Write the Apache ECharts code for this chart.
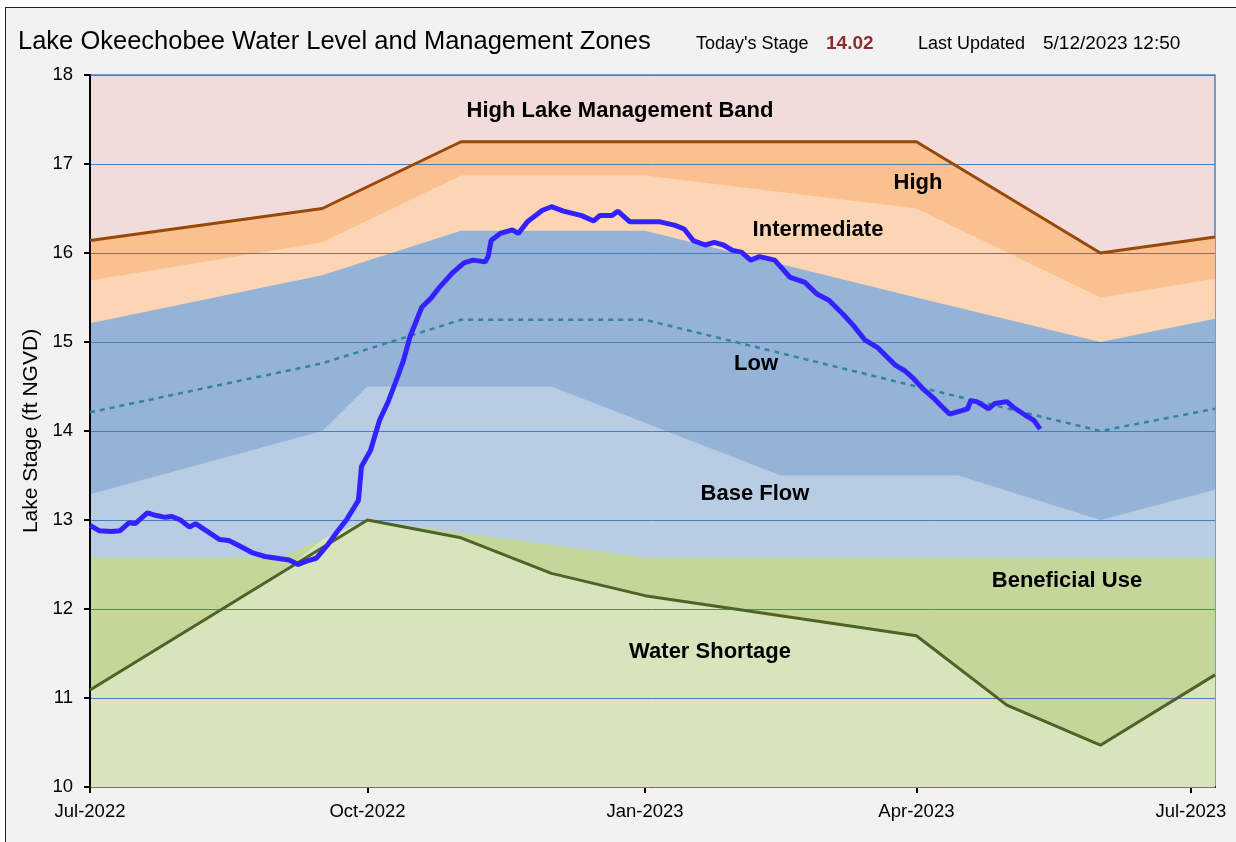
<!DOCTYPE html>
<html>
<head>
<meta charset="utf-8">
<script src="https://cdn.jsdelivr.net/npm/echarts@6/dist/echarts.min.js"></script>
<style>
  html, body { margin: 0; padding: 0; background: #fff; }
  #frame { position: absolute; left: 5px; top: 7px; width: 1240px; height: 840px; background: #f2f2f2; border-left: 1.5px solid #222; border-top: 1.5px solid #222; }
  #main { position: absolute; left: 0; top: 0; width: 1236px; height: 842px; }
</style>
</head>
<body>
<div id="frame"></div>
<div id="main"></div>
<script>
// management zone boundaries (ft NGVD)
const highTopDates = ['2022-07-01', '2022-09-16', '2022-11-01', '2023-04-01', '2023-06-01', '2023-07-09'];
const highTop = [16.14, 16.50, 17.25, 17.25, 16.00, 16.18];

const interTopDates = ['2022-07-01', '2022-09-16', '2022-11-01', '2023-01-01', '2023-04-01', '2023-06-01', '2023-07-09'];
const interTop = [15.69, 16.12, 16.87, 16.87, 16.50, 15.50, 15.71];

const lowTopDates = ['2022-07-01', '2022-09-16', '2022-11-01', '2023-01-01', '2023-04-01', '2023-06-01', '2023-07-09'];
const lowTop = [15.21, 15.75, 16.25, 16.25, 15.50, 15.00, 15.26];

const lowMidDates = ['2022-07-01', '2022-09-16', '2022-11-01', '2023-01-01', '2023-04-01', '2023-06-01', '2023-07-09'];
const lowMid = [14.21, 14.76, 15.25, 15.25, 14.50, 14.00, 14.25];

const baseTopDates = ['2022-07-01', '2022-09-16', '2022-10-01', '2022-12-01', '2023-02-15', '2023-04-15', '2023-06-01', '2023-07-09'];
const baseTop = [13.29, 14.00, 14.50, 14.50, 13.50, 13.50, 13.00, 13.34];

const benTopDates = ['2022-07-01', '2022-09-02', '2022-10-01', '2023-01-01', '2023-07-09'];
const benTop = [12.58, 12.58, 13.00, 12.58, 12.58];

const shortDates = ['2022-07-01', '2022-10-01', '2022-11-01', '2022-12-01', '2023-01-01', '2023-04-01', '2023-05-01', '2023-06-01', '2023-07-09'];
const shortLine = [11.09, 13.00, 12.80, 12.40, 12.15, 11.70, 10.92, 10.47, 11.26];

const shortFillDates = ['2022-07-01', '2022-09-04', '2022-09-16', '2022-10-01', '2022-11-01', '2022-12-01', '2023-01-01', '2023-04-01', '2023-05-01', '2023-06-01', '2023-07-09'];
const shortFill = [11.09, 12.44, 12.78, 13.00, 12.80, 12.40, 12.15, 11.70, 10.92, 10.47, 11.26];

// lake stage
const wlDates = ['2022-07-01','2022-07-04','2022-07-08','2022-07-11','2022-07-14','2022-07-16','2022-07-20','2022-07-23','2022-07-26','2022-07-28','2022-07-31',
  '2022-08-03','2022-08-05','2022-08-09','2022-08-13','2022-08-16','2022-08-19','2022-08-24','2022-08-28',
  '2022-09-01','2022-09-05','2022-09-08','2022-09-11','2022-09-14','2022-09-18','2022-09-21','2022-09-24','2022-09-28','2022-09-29',
  '2022-10-02','2022-10-05','2022-10-08','2022-10-11','2022-10-13','2022-10-15','2022-10-19','2022-10-22','2022-10-25','2022-10-29',
  '2022-11-02','2022-11-05','2022-11-09','2022-11-10','2022-11-11','2022-11-14','2022-11-18','2022-11-20','2022-11-23','2022-11-28',
  '2022-12-01','2022-12-05','2022-12-11','2022-12-15','2022-12-17','2022-12-21','2022-12-23','2022-12-27',
  '2023-01-02','2023-01-06','2023-01-11','2023-01-14','2023-01-17','2023-01-21','2023-01-24','2023-01-27','2023-01-30',
  '2023-02-02','2023-02-05','2023-02-08','2023-02-13','2023-02-18','2023-02-23','2023-02-27',
  '2023-03-03','2023-03-08','2023-03-11','2023-03-15','2023-03-19','2023-03-25','2023-03-28','2023-03-31',
  '2023-04-03','2023-04-07','2023-04-09','2023-04-12','2023-04-16','2023-04-18','2023-04-19','2023-04-21','2023-04-25','2023-04-27',
  '2023-05-01','2023-05-03','2023-05-07','2023-05-10','2023-05-12'];
const wlStage = [12.94,12.88,12.87,12.88,12.97,12.96,13.08,13.05,13.03,13.04,13.00,
  12.92,12.96,12.87,12.78,12.77,12.72,12.63,12.59,
  12.57,12.55,12.50,12.54,12.57,12.73,12.87,13.00,13.22,13.60,
  13.78,14.12,14.34,14.61,14.80,15.05,15.39,15.49,15.62,15.77,
  15.89,15.92,15.90,15.96,16.14,16.22,16.26,16.22,16.35,16.48,
  16.52,16.47,16.42,16.36,16.42,16.42,16.47,16.35,
  16.35,16.35,16.31,16.27,16.14,16.09,16.12,16.09,16.03,
  16.01,15.92,15.96,15.92,15.73,15.67,15.54,
  15.47,15.30,15.19,15.02,14.94,14.74,14.68,14.59,
  14.48,14.36,14.29,14.19,14.23,14.25,14.34,14.33,14.25,14.31,
  14.33,14.27,14.18,14.12,14.02];

// x axis ticks (quarterly)
const tickDates = ['2022-07-01', '2022-10-01', '2023-01-01', '2023-04-01', '2023-07-01'];
const tickLabels = ['Jul-2022', 'Oct-2022', 'Jan-2023', 'Apr-2023', 'Jul-2023'];
const xStart = '2022-07-01';
const xEnd = '2023-07-09';

function ts(s) {
  return echarts.time.parse(s).getTime();
}

function pairs(d, v) {
  return d.map((x, i) => [ts(x), v[i]]);
}

function zone(dates, vals, fill) {
  return {
    type: 'line', data: pairs(dates, vals), symbol: 'none', silent: true, z: 2,
    lineStyle: { opacity: 0 },
    areaStyle: { color: fill, opacity: 1, origin: 'start' }
  };
}

function edge(dates, vals, color, width, type, z) {
  return {
    type: 'line', data: pairs(dates, vals), symbol: 'none', silent: true, z: z,
    lineStyle: { color: color, width: width, type: type }
  };
}

function note(x, y, text, font, fill, align) {
  return {
    type: 'text', x: x, y: y, z: 100,
    style: { text: text, font: font, fill: fill || '#000', textAlign: align || 'center', textVerticalAlign: 'middle' }
  };
}

const myChart = echarts.init(document.getElementById('main'));
const lbl = 'bold 22px "Liberation Sans", Arial, sans-serif';
const sub = '18px "Liberation Sans", Arial, sans-serif';
const tickTimes = tickDates.map(ts);

const option = {
  animation: false,
  backgroundColor: 'transparent',
  title: {
    text: 'Lake Okeechobee Water Level and Management Zones',
    left: 13, top: 24,
    textStyle: { fontFamily: 'Liberation Sans', fontSize: 25.5, fontWeight: 'normal', color: '#000' }
  },
  grid: {
    left: 90, right: 21, top: 75, bottom: 55,
    show: true, backgroundColor: '#f2dcdb', borderColor: '#4f81bd', borderWidth: 1.5
  },
  xAxis: {
    type: 'value',
    min: ts(xStart), max: ts(xEnd),
    axisLine: { lineStyle: { color: '#000', width: 2 } },
    axisTick: { show: true, length: 6, customValues: tickTimes, lineStyle: { color: '#000', width: 2 } },
    splitLine: { show: false },
    axisLabel: {
      color: '#000', fontFamily: 'Liberation Sans', fontSize: 18.5, margin: 15,
      customValues: tickTimes,
      formatter: function (v) {
        return tickLabels[tickTimes.indexOf(v)];
      }
    }
  },
  yAxis: {
    type: 'value', min: 10, max: 18, interval: 1, z: 3,
    name: 'Lake Stage (ft NGVD)', nameLocation: 'middle', nameGap: 46,
    nameTextStyle: { fontFamily: 'Liberation Sans', fontSize: 21, color: '#000' },
    axisLine: { show: true, lineStyle: { color: '#000', width: 2 } },
    axisTick: { show: true, length: 6, lineStyle: { color: '#000', width: 2 } },
    axisLabel: { color: '#000', fontFamily: 'Liberation Sans', fontSize: 18.5, margin: 17 },
    splitLine: { show: true, lineStyle: { color: '#4a7ebb', width: 1 } }
  },
  series: [
    zone(highTopDates, highTop, '#fac090'),
    zone(interTopDates, interTop, '#fcd5b4'),
    zone(lowTopDates, lowTop, '#95b3d7'),
    zone(baseTopDates, baseTop, '#b8cce4'),
    zone(benTopDates, benTop, '#c4d79b'),
    zone(shortFillDates, shortFill, '#d8e4bc'),
    edge(shortDates, shortLine, '#4f6228', 3, 'solid', 4),
    edge(highTopDates, highTop, '#984807', 3, 'solid', 4),
    edge(lowMidDates, lowMid, '#31859c', 2.5, [5, 5], 4),
    edge(wlDates, wlStage, '#3322ff', 5, 'solid', 6)
  ],
  graphic: { elements: [
    note(620, 111, 'High Lake Management Band', lbl),
    note(918, 183, 'High', lbl),
    note(818, 230, 'Intermediate', lbl),
    note(756, 364, 'Low', lbl),
    note(755, 494, 'Base Flow', lbl),
    note(1067, 581, 'Beneficial Use', lbl),
    note(710, 652, 'Water Shortage', lbl),
    note(696, 44, "Today's Stage", sub, '#000', 'left'),
    note(826, 44, '14.02', 'bold 19px "Liberation Sans", Arial, sans-serif', '#8b2e2e', 'left'),
    note(918, 44, 'Last Updated', sub, '#000', 'left'),
    note(1043, 44, '5/12/2023 12:50', '19px "Liberation Sans", Arial, sans-serif', '#000', 'left')
  ] }
};

myChart.setOption(option);
</script>
</body>
</html>
